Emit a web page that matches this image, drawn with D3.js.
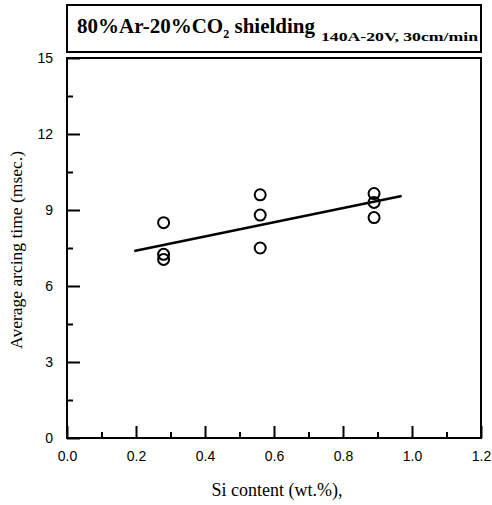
<!DOCTYPE html>
<html>
<head>
<meta charset="utf-8">
<script src="https://cdn.jsdelivr.net/npm/d3@7"></script>
<style>
  body { margin: 0; background: #fff; }
  text { fill: #000; }
</style>
</head>
<body>
<div id="chart"></div>
<script>
// data
var siContent = [0.28, 0.28, 0.28, 0.56, 0.56, 0.56, 0.89, 0.89, 0.89];
var arcTime   = [8.5, 7.25, 7.05, 9.6, 8.8, 7.5, 9.65, 9.3, 8.7];
var fitX = [0.195, 0.97];
var fitY = [7.38, 9.55];
var xTicks = [0, 0.2, 0.4, 0.6, 0.8, 1.0, 1.2];
var yTicks = [0, 3, 6, 9, 12, 15];

var margin = {top: 58, right: 11, bottom: 67, left: 67},
    width = 492 - margin.left - margin.right,
    height = 505 - margin.top - margin.bottom;

var svg = d3.select("#chart")
  .append("svg")
    .attr("width", 492)
    .attr("height", 505);

var g = svg.append("g")
    .attr("transform", "translate(" + margin.left + "," + margin.top + ")");

var x = d3.scaleLinear().domain([0, 1.2]).range([0, width]);
var y = d3.scaleLinear().domain([0, 15]).range([height, 0]);

// title box
svg.append("rect")
  .attr("x", margin.left).attr("y", 5)
  .attr("width", width).attr("height", 47)
  .attr("fill", "none").attr("stroke", "#000").attr("stroke-width", 2);

var title = svg.append("text")
  .attr("x", 77).attr("y", 33)
  .style("font-family", "Liberation Serif, Times New Roman, serif")
  .style("font-weight", "bold")
  .style("font-size", "21px");
title.append("tspan").text("80%Ar-20%CO");
title.append("tspan").attr("dy", 5).style("font-size", "12px").text("2");
title.append("tspan").attr("dy", -5).text(" shielding");

svg.append("text")
  .attr("x", 321).attr("y", 41)
  .attr("textLength", 157)
  .attr("lengthAdjust", "spacingAndGlyphs")
  .style("font-family", "Liberation Serif, Times New Roman, serif")
  .style("font-weight", "bold")
  .style("font-size", "12.5px")
  .text("140A-20V, 30cm/min");

// axes: ticks pointing inward
var xAxis = g.append("g")
  .attr("transform", "translate(0," + height + ")")
  .call(d3.axisBottom(x).tickValues(d3.range(0, 1.21, 0.1)).tickSize(0).tickFormat(""));
xAxis.select(".domain").remove();
xAxis.selectAll(".tick line")
  .attr("y2", function(d, i) { return i % 2 === 0 ? -12 : -6; })
  .attr("stroke-width", 2);

g.append("g")
  .attr("transform", "translate(0," + height + ")")
  .call(d3.axisBottom(x).tickValues(xTicks).tickSize(0).tickPadding(13).tickFormat(d3.format(".1f")))
  .call(function(a) { a.select(".domain").remove(); })
  .selectAll("text")
    .style("font-family", "Liberation Sans, Arial, sans-serif")
    .style("font-size", "14px");

var yAxis = g.append("g")
  .call(d3.axisLeft(y).tickValues(d3.range(0, 15.1, 1.5)).tickSize(0).tickFormat(""));
yAxis.select(".domain").remove();
yAxis.selectAll(".tick line")
  .attr("x2", function(d, i) { return i % 2 === 0 ? 13 : 6; })
  .attr("stroke-width", 2);

g.append("g")
  .call(d3.axisLeft(y).tickValues(yTicks).tickSize(0).tickPadding(14))
  .call(function(a) { a.select(".domain").remove(); })
  .selectAll("text")
    .style("font-family", "Liberation Sans, Arial, sans-serif")
    .style("font-size", "14px");

// frame
g.append("rect")
  .attr("width", width).attr("height", height)
  .attr("fill", "none").attr("stroke", "#000").attr("stroke-width", 2);

// fit line
g.append("line")
  .attr("x1", x(fitX[0])).attr("y1", y(fitY[0]))
  .attr("x2", x(fitX[1])).attr("y2", y(fitY[1]))
  .attr("stroke", "#000").attr("stroke-width", 2.5);

// points
g.selectAll("circle")
  .data(siContent)
  .enter()
  .append("circle")
    .attr("cx", function(d) { return x(d); })
    .attr("cy", function(d, i) { return y(arcTime[i]); })
    .attr("r", 5.5)
    .attr("fill", "none")
    .attr("stroke", "#000")
    .attr("stroke-width", 2);

// axis labels
svg.append("text")
  .attr("x", 277).attr("y", 496)
  .attr("text-anchor", "middle")
  .style("font-family", "Liberation Serif, Times New Roman, serif")
  .style("font-size", "18px")
  .text("Si content (wt.%),");

svg.append("text")
  .attr("transform", "translate(22,250) rotate(-90)")
  .attr("text-anchor", "middle")
  .style("font-family", "Liberation Serif, Times New Roman, serif")
  .style("font-size", "17.5px")
  .text("Average arcing time (msec.)");
</script>
</body>
</html>
